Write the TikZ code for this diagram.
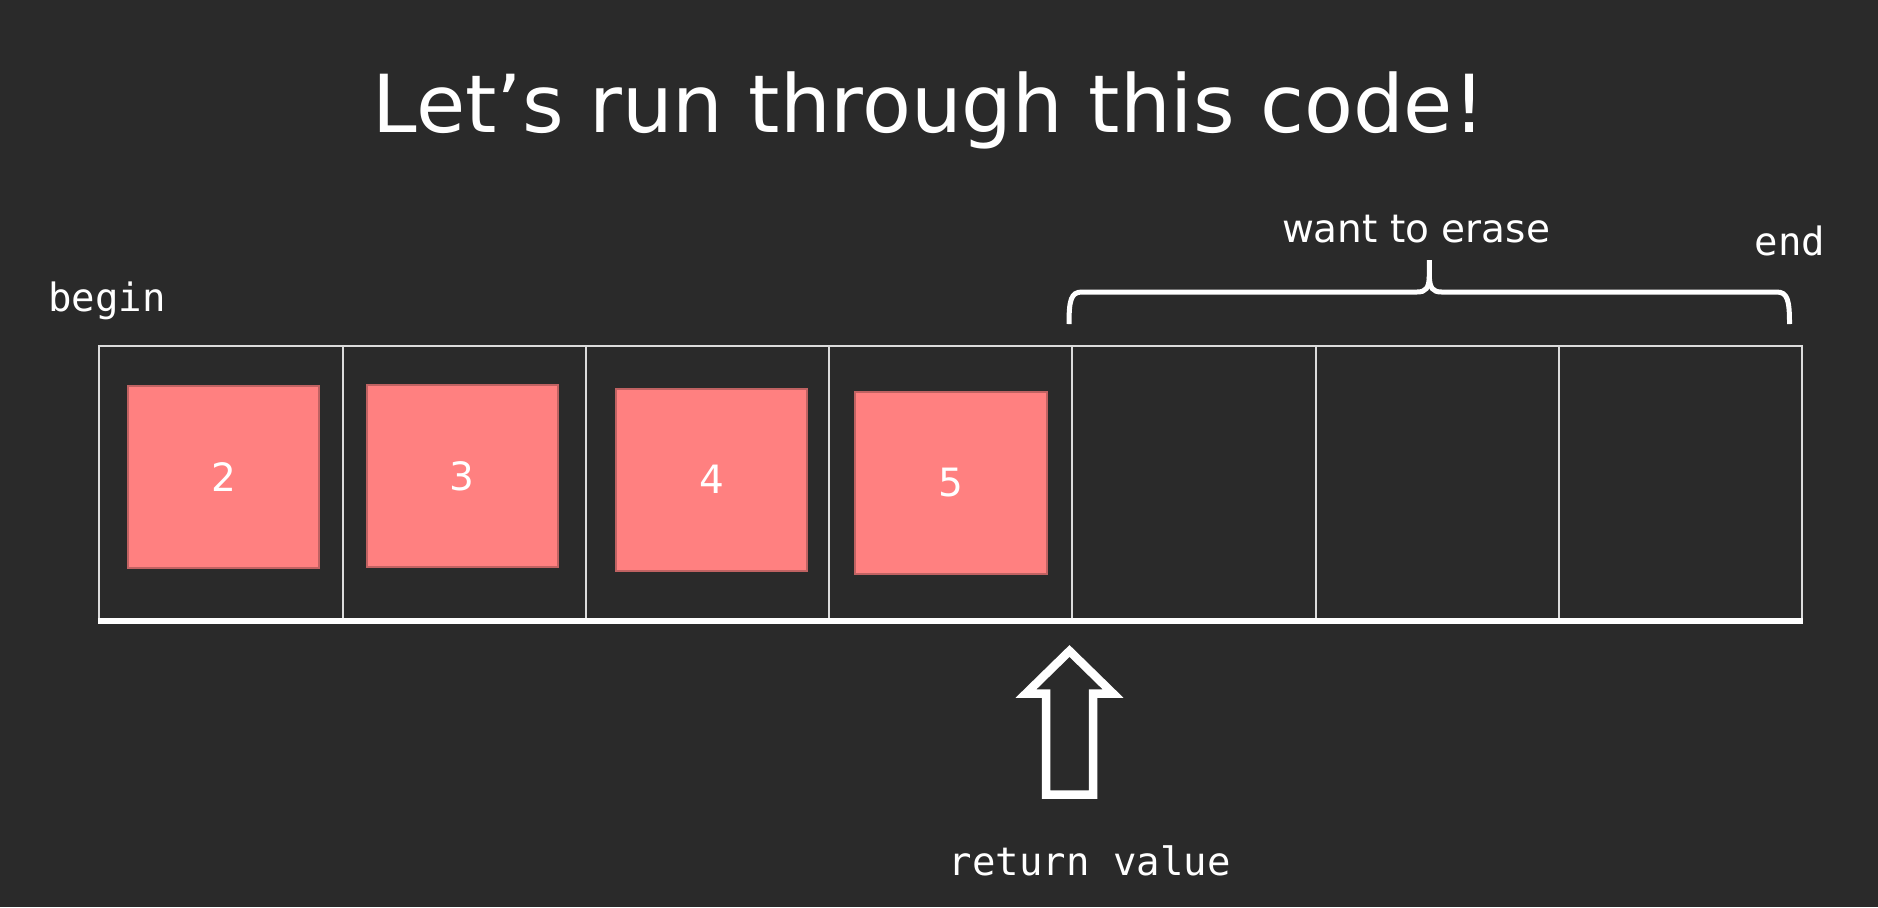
\documentclass[tikz,border=0pt]{standalone}
\usepackage{fontspec}
\setmainfont{DejaVu Sans}
\newfontfamily\monofont{DejaVu Sans Mono}
\definecolor{bgc}{HTML}{2A2A2A}
\definecolor{boxfill}{HTML}{FF8080}
\definecolor{boxline}{HTML}{C06262}
\definecolor{cellline}{HTML}{DCDCDC}
\begin{document}
\begin{tikzpicture}[x=0.4pt,y=-0.4pt,
  cellbox/.style={draw=cellline,line width=0.8pt,minimum width=97.28pt,minimum height=109.8pt,inner sep=0pt},
  valbox/.style={draw=boxline,fill=boxfill,line width=0.8pt,minimum width=76.5pt,minimum height=72.8pt,inner sep=0pt,text=white,font=\fontsize{15.6}{18}\selectfont},
  monolabel/.style={text=white,inner sep=0pt,font=\monofont\fontsize{15.6}{18}\selectfont},
  sanslabel/.style={text=white,inner sep=0pt,font=\fontsize{15.6}{18}\selectfont},
  heavy/.style={draw=white,line width=2pt}]
\fill[bgc] (0,0) rectangle (1878,907);
\useasboundingbox (0,0) rectangle (1878,907);
% title
\node[text=white,inner sep=0pt,anchor=base,font=\fontsize{32}{38}\selectfont] (title) at (929,132) {Let’s run through this code!};
% cells
\foreach \i in {1,...,7}{
  \node[cellbox] (c\i) at ({99.5+121.6+243.2*(\i-1)},482.75) {};
}
\draw[draw=white,line width=2.2pt] (c1.south west) -- (c7.south east);
% value boxes
\node[valbox] (b1) at (223.8,477) {2};
\node[valbox] (b2) at (462.2,476.3) {3};
\node[valbox] (b3) at (711.5,479.5) {4};
\node[valbox] (b4) at (951,482.5) {5};
% labels
\node[monolabel,anchor=base west] (begin) at (48,311) {begin};
\node[monolabel,anchor=base west] (end) at (1754,255) {end};
\node[sanslabel,anchor=base] (erase) at (1416,242.7) {want to erase};
\node[monolabel,anchor=base] (ret) at (1089.7,875) {return value};
% brace
\coordinate (bl) at (1069,324);
\coordinate (br) at (1789.5,324);
\draw[heavy] (bl) .. controls (1069,300) and (1071,292) .. (1082,292) -- (1417,292)
  .. controls (1426,292) and (1429,288) .. (1429.3,276) -- (1429.3,260);
\draw[heavy] (br) .. controls (1789.5,300) and (1787.5,292) .. (1776.5,292) -- (1441.6,292)
  .. controls (1432.6,292) and (1429.6,288) .. (1429.3,276);
% arrow
\coordinate (tip) at (1069.5,651);
\draw[draw=white,line width=3.4pt,miter limit=10] (tip) -- (1113,693.5) -- (1093.2,693.5) -- (1093.2,794.5) -- (1046.2,794.5) -- (1046.2,693.5) -- (1026,693.5) -- cycle;
\end{tikzpicture}
\end{document}
